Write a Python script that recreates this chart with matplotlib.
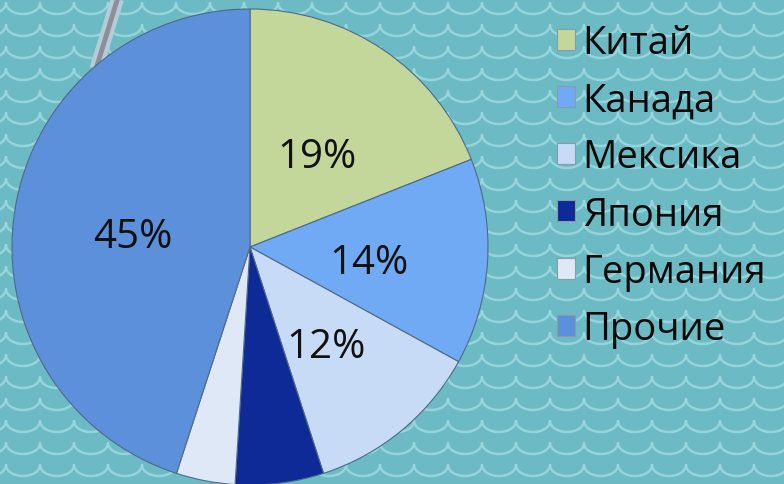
import numpy as np
import matplotlib
matplotlib.use("Agg")
import matplotlib.pyplot as plt
from matplotlib.patches import Rectangle
from matplotlib.transforms import ScaledTranslation

countries = ["Китай", "Канада", "Мексика", "Япония", "Германия", "Прочие"]
shares = [19, 14, 12, 6, 4, 45]
colors = ["#C3D79A", "#70A9F4", "#C7DBF7", "#0E2A97", "#DEE8F7", "#5C90DA"]

W, H = 784, 485
fig = plt.figure(figsize=(W / 100, H / 100), dpi=100)
fig.patch.set_facecolor("#6CBAC3")

# background texture (scallops)
bg = fig.add_axes([0, 0, 1, 1])
bg.set_xlim(0, W)
bg.set_ylim(H, 0)
bg.axis("off")
bg.add_patch(Rectangle((0, 0), W, H, color="#6CBAC3", zorder=0))
px, py, depth = 34, 22, 11
t = np.linspace(0, np.pi, 30)
for row in range(-1, H // py + 2):
    y0 = row * py + 4
    for k in range(-1, W // px + 2):
        x0 = k * px + 6
        xs = x0 + px / 2 - (px / 2) * np.cos(t)
        ys = y0 + depth * np.sin(t)
        bg.plot(xs, ys, color="#9CD9DF", lw=1.8, alpha=0.85, zorder=1,
                solid_capstyle="round")
# decorative grey band
bg.plot([119, 96], [-5, 70], color="#B4CCD8", lw=9.5, zorder=2, solid_capstyle="butt")
bg.plot([119, 96], [-5, 70], color="#8E8F9A", lw=3.5, zorder=3, solid_capstyle="butt")

cx, cy, r = 250, 248, 238
ax = fig.add_axes([(cx - r) / W, (H - cy - r) / H, 2 * r / W, 2 * r / H])


def fmt(p):
    return f"{p:.0f}%" if p >= 10 else ""


wedges, texts, autotexts = ax.pie(
    shares, colors=colors, startangle=90, counterclock=False, radius=1,
    autopct=fmt, pctdistance=0.5,
    wedgeprops=dict(edgecolor="#4F6A86", linewidth=0.8),
    textprops=dict(fontsize=29, family="Open Sans", color="#111111"),
)
ax.set_xlim(-1, 1)
ax.set_ylim(-1, 1)
ax.axis("off")
shift = ScaledTranslation(0, -8 / 100, fig.dpi_scale_trans)
for at in autotexts:
    at.set_transform(ax.transData + shift)

leg = fig.legend(wedges, countries, loc="upper left", bbox_to_anchor=(0.7105, 0.948),
                 frameon=False, prop=dict(family="Open Sans", size=27.5),
                 handlelength=0.47, handleheight=0.47, handletextpad=0.2,
                 labelspacing=0.5, borderpad=0, borderaxespad=0)
for h in leg.legend_handles:
    h.set_edgecolor("#8A9AA8")
    h.set_linewidth(0.8)
for txt in leg.get_texts():
    txt.set_color("#0A0A0A")

fig.savefig("out.png", dpi=100, facecolor=fig.get_facecolor())
